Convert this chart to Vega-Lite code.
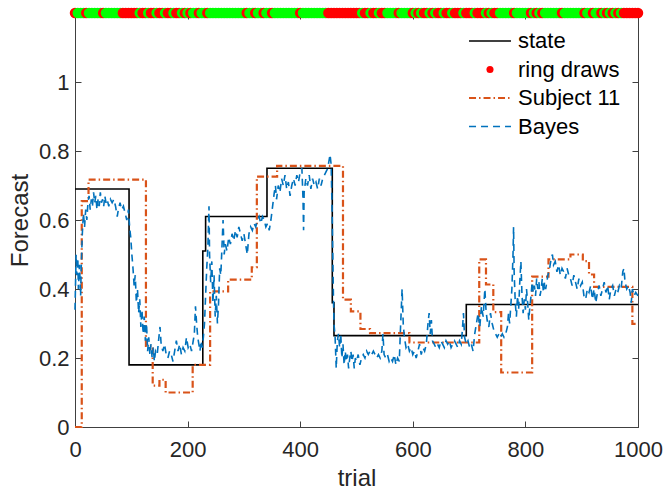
{
  "$schema": "https://vega.github.io/schema/vega-lite/v6.json",
  "width": 563,
  "height": 414,
  "autosize": {"type": "none"},
  "padding": {"left": 75, "top": 13, "right": 26, "bottom": 62},
  "background": "white",
  "config": {
    "view": {"stroke": "#404040", "strokeWidth": 1},
    "font": "Liberation Sans",
    "axis": {"grid": false, "domainColor": "#404040", "tickColor": "#404040", "labelColor": "#262626", "titleColor": "#262626", "labelFont": "Liberation Sans", "titleFont": "Liberation Sans", "labelFontSize": 22, "titleFontSize": 24, "titleFontWeight": "normal", "tickSize": -6, "tickWidth": 1, "labelFlush": false}
  },
  "resolve": {"axis": {"x": "independent", "y": "independent"}},
  "datasets": {
    "lines": [
      {"series": "state", "trial": 0, "value": 0.69},
      {"series": "state", "trial": 96, "value": 0.18},
      {"series": "state", "trial": 227, "value": 0.51},
      {"series": "state", "trial": 232, "value": 0.61},
      {"series": "state", "trial": 341, "value": 0.75},
      {"series": "state", "trial": 457, "value": 0.36},
      {"series": "state", "trial": 460, "value": 0.265},
      {"series": "state", "trial": 695, "value": 0.355},
      {"series": "state", "trial": 1000, "value": 0.355},
      {"series": "Subject 11", "trial": 0, "value": 0.0},
      {"series": "Subject 11", "trial": 12, "value": 0.655},
      {"series": "Subject 11", "trial": 24, "value": 0.717},
      {"series": "Subject 11", "trial": 126, "value": 0.235},
      {"series": "Subject 11", "trial": 138, "value": 0.12},
      {"series": "Subject 11", "trial": 150, "value": 0.137},
      {"series": "Subject 11", "trial": 161, "value": 0.10},
      {"series": "Subject 11", "trial": 209, "value": 0.18},
      {"series": "Subject 11", "trial": 240, "value": 0.393},
      {"series": "Subject 11", "trial": 272, "value": 0.427},
      {"series": "Subject 11", "trial": 314, "value": 0.463},
      {"series": "Subject 11", "trial": 323, "value": 0.726},
      {"series": "Subject 11", "trial": 359, "value": 0.757},
      {"series": "Subject 11", "trial": 476, "value": 0.369},
      {"series": "Subject 11", "trial": 490, "value": 0.335},
      {"series": "Subject 11", "trial": 507, "value": 0.284},
      {"series": "Subject 11", "trial": 524, "value": 0.272},
      {"series": "Subject 11", "trial": 594, "value": 0.245},
      {"series": "Subject 11", "trial": 718, "value": 0.486},
      {"series": "Subject 11", "trial": 730, "value": 0.413},
      {"series": "Subject 11", "trial": 743, "value": 0.333},
      {"series": "Subject 11", "trial": 757, "value": 0.158},
      {"series": "Subject 11", "trial": 812, "value": 0.436},
      {"series": "Subject 11", "trial": 841, "value": 0.486},
      {"series": "Subject 11", "trial": 880, "value": 0.50},
      {"series": "Subject 11", "trial": 902, "value": 0.481},
      {"series": "Subject 11", "trial": 913, "value": 0.442},
      {"series": "Subject 11", "trial": 922, "value": 0.406},
      {"series": "Subject 11", "trial": 990, "value": 0.299},
      {"series": "Subject 11", "trial": 1000, "value": 0.299},
      {"series": "Bayes", "trial": 0, "value": 0.34},
      {"series": "Bayes", "trial": 2, "value": 0.50},
      {"series": "Bayes", "trial": 3, "value": 0.44},
      {"series": "Bayes", "trial": 5, "value": 0.49},
      {"series": "Bayes", "trial": 6, "value": 0.40},
      {"series": "Bayes", "trial": 8, "value": 0.47},
      {"series": "Bayes", "trial": 10, "value": 0.38},
      {"series": "Bayes", "trial": 11, "value": 0.46},
      {"series": "Bayes", "trial": 13, "value": 0.56},
      {"series": "Bayes", "trial": 15, "value": 0.62},
      {"series": "Bayes", "trial": 17, "value": 0.58},
      {"series": "Bayes", "trial": 19, "value": 0.63},
      {"series": "Bayes", "trial": 21, "value": 0.60},
      {"series": "Bayes", "trial": 23, "value": 0.65},
      {"series": "Bayes", "trial": 25, "value": 0.67},
      {"series": "Bayes", "trial": 27, "value": 0.63},
      {"series": "Bayes", "trial": 29, "value": 0.66},
      {"series": "Bayes", "trial": 31, "value": 0.64},
      {"series": "Bayes", "trial": 33, "value": 0.68},
      {"series": "Bayes", "trial": 35, "value": 0.65},
      {"series": "Bayes", "trial": 37, "value": 0.67},
      {"series": "Bayes", "trial": 39, "value": 0.63},
      {"series": "Bayes", "trial": 41, "value": 0.66},
      {"series": "Bayes", "trial": 43, "value": 0.64},
      {"series": "Bayes", "trial": 45, "value": 0.68},
      {"series": "Bayes", "trial": 47, "value": 0.65},
      {"series": "Bayes", "trial": 49, "value": 0.66},
      {"series": "Bayes", "trial": 51, "value": 0.64},
      {"series": "Bayes", "trial": 53, "value": 0.67},
      {"series": "Bayes", "trial": 55, "value": 0.65},
      {"series": "Bayes", "trial": 57, "value": 0.66},
      {"series": "Bayes", "trial": 60, "value": 0.64},
      {"series": "Bayes", "trial": 63, "value": 0.66},
      {"series": "Bayes", "trial": 66, "value": 0.65},
      {"series": "Bayes", "trial": 69, "value": 0.66},
      {"series": "Bayes", "trial": 72, "value": 0.64},
      {"series": "Bayes", "trial": 75, "value": 0.61},
      {"series": "Bayes", "trial": 77, "value": 0.63},
      {"series": "Bayes", "trial": 80, "value": 0.65},
      {"series": "Bayes", "trial": 83, "value": 0.63},
      {"series": "Bayes", "trial": 86, "value": 0.64},
      {"series": "Bayes", "trial": 89, "value": 0.62},
      {"series": "Bayes", "trial": 92, "value": 0.60},
      {"series": "Bayes", "trial": 95, "value": 0.63},
      {"series": "Bayes", "trial": 97, "value": 0.58},
      {"series": "Bayes", "trial": 99, "value": 0.55},
      {"series": "Bayes", "trial": 101, "value": 0.50},
      {"series": "Bayes", "trial": 103, "value": 0.46},
      {"series": "Bayes", "trial": 105, "value": 0.41},
      {"series": "Bayes", "trial": 107, "value": 0.44},
      {"series": "Bayes", "trial": 109, "value": 0.36},
      {"series": "Bayes", "trial": 111, "value": 0.40},
      {"series": "Bayes", "trial": 113, "value": 0.33},
      {"series": "Bayes", "trial": 115, "value": 0.37},
      {"series": "Bayes", "trial": 117, "value": 0.29},
      {"series": "Bayes", "trial": 119, "value": 0.34},
      {"series": "Bayes", "trial": 121, "value": 0.27},
      {"series": "Bayes", "trial": 123, "value": 0.32},
      {"series": "Bayes", "trial": 125, "value": 0.25},
      {"series": "Bayes", "trial": 127, "value": 0.30},
      {"series": "Bayes", "trial": 129, "value": 0.22},
      {"series": "Bayes", "trial": 131, "value": 0.26},
      {"series": "Bayes", "trial": 133, "value": 0.21},
      {"series": "Bayes", "trial": 135, "value": 0.24},
      {"series": "Bayes", "trial": 137, "value": 0.20},
      {"series": "Bayes", "trial": 139, "value": 0.23},
      {"series": "Bayes", "trial": 141, "value": 0.19},
      {"series": "Bayes", "trial": 143, "value": 0.22},
      {"series": "Bayes", "trial": 146, "value": 0.21},
      {"series": "Bayes", "trial": 149, "value": 0.26},
      {"series": "Bayes", "trial": 151, "value": 0.29},
      {"series": "Bayes", "trial": 153, "value": 0.24},
      {"series": "Bayes", "trial": 156, "value": 0.22},
      {"series": "Bayes", "trial": 159, "value": 0.24},
      {"series": "Bayes", "trial": 162, "value": 0.21},
      {"series": "Bayes", "trial": 165, "value": 0.20},
      {"series": "Bayes", "trial": 168, "value": 0.22},
      {"series": "Bayes", "trial": 171, "value": 0.21},
      {"series": "Bayes", "trial": 174, "value": 0.19},
      {"series": "Bayes", "trial": 177, "value": 0.22},
      {"series": "Bayes", "trial": 180, "value": 0.25},
      {"series": "Bayes", "trial": 183, "value": 0.22},
      {"series": "Bayes", "trial": 186, "value": 0.24},
      {"series": "Bayes", "trial": 189, "value": 0.21},
      {"series": "Bayes", "trial": 192, "value": 0.23},
      {"series": "Bayes", "trial": 195, "value": 0.22},
      {"series": "Bayes", "trial": 198, "value": 0.26},
      {"series": "Bayes", "trial": 201, "value": 0.23},
      {"series": "Bayes", "trial": 204, "value": 0.24},
      {"series": "Bayes", "trial": 207, "value": 0.22},
      {"series": "Bayes", "trial": 210, "value": 0.25},
      {"series": "Bayes", "trial": 212, "value": 0.27},
      {"series": "Bayes", "trial": 214, "value": 0.35},
      {"series": "Bayes", "trial": 216, "value": 0.30},
      {"series": "Bayes", "trial": 218, "value": 0.26},
      {"series": "Bayes", "trial": 220, "value": 0.24},
      {"series": "Bayes", "trial": 222, "value": 0.22},
      {"series": "Bayes", "trial": 224, "value": 0.25},
      {"series": "Bayes", "trial": 226, "value": 0.23},
      {"series": "Bayes", "trial": 228, "value": 0.26},
      {"series": "Bayes", "trial": 230, "value": 0.30},
      {"series": "Bayes", "trial": 232, "value": 0.38},
      {"series": "Bayes", "trial": 234, "value": 0.46},
      {"series": "Bayes", "trial": 236, "value": 0.52},
      {"series": "Bayes", "trial": 238, "value": 0.64},
      {"series": "Bayes", "trial": 239, "value": 0.50},
      {"series": "Bayes", "trial": 241, "value": 0.42},
      {"series": "Bayes", "trial": 243, "value": 0.48},
      {"series": "Bayes", "trial": 245, "value": 0.36},
      {"series": "Bayes", "trial": 247, "value": 0.44},
      {"series": "Bayes", "trial": 249, "value": 0.32},
      {"series": "Bayes", "trial": 251, "value": 0.38},
      {"series": "Bayes", "trial": 253, "value": 0.30},
      {"series": "Bayes", "trial": 255, "value": 0.36},
      {"series": "Bayes", "trial": 257, "value": 0.46},
      {"series": "Bayes", "trial": 259, "value": 0.44},
      {"series": "Bayes", "trial": 261, "value": 0.52},
      {"series": "Bayes", "trial": 263, "value": 0.60},
      {"series": "Bayes", "trial": 265, "value": 0.50},
      {"series": "Bayes", "trial": 267, "value": 0.53},
      {"series": "Bayes", "trial": 270, "value": 0.51},
      {"series": "Bayes", "trial": 273, "value": 0.55},
      {"series": "Bayes", "trial": 276, "value": 0.53},
      {"series": "Bayes", "trial": 279, "value": 0.56},
      {"series": "Bayes", "trial": 282, "value": 0.54},
      {"series": "Bayes", "trial": 285, "value": 0.57},
      {"series": "Bayes", "trial": 288, "value": 0.55},
      {"series": "Bayes", "trial": 291, "value": 0.58},
      {"series": "Bayes", "trial": 294, "value": 0.56},
      {"series": "Bayes", "trial": 297, "value": 0.54},
      {"series": "Bayes", "trial": 300, "value": 0.56},
      {"series": "Bayes", "trial": 303, "value": 0.53},
      {"series": "Bayes", "trial": 306, "value": 0.50},
      {"series": "Bayes", "trial": 309, "value": 0.56},
      {"series": "Bayes", "trial": 312, "value": 0.58},
      {"series": "Bayes", "trial": 315, "value": 0.57},
      {"series": "Bayes", "trial": 318, "value": 0.59},
      {"series": "Bayes", "trial": 321, "value": 0.58},
      {"series": "Bayes", "trial": 324, "value": 0.60},
      {"series": "Bayes", "trial": 327, "value": 0.61},
      {"series": "Bayes", "trial": 330, "value": 0.59},
      {"series": "Bayes", "trial": 333, "value": 0.61},
      {"series": "Bayes", "trial": 336, "value": 0.60},
      {"series": "Bayes", "trial": 339, "value": 0.58},
      {"series": "Bayes", "trial": 342, "value": 0.59},
      {"series": "Bayes", "trial": 345, "value": 0.57},
      {"series": "Bayes", "trial": 348, "value": 0.60},
      {"series": "Bayes", "trial": 351, "value": 0.64},
      {"series": "Bayes", "trial": 354, "value": 0.68},
      {"series": "Bayes", "trial": 356, "value": 0.70},
      {"series": "Bayes", "trial": 358, "value": 0.66},
      {"series": "Bayes", "trial": 361, "value": 0.70},
      {"series": "Bayes", "trial": 364, "value": 0.68},
      {"series": "Bayes", "trial": 367, "value": 0.72},
      {"series": "Bayes", "trial": 370, "value": 0.70},
      {"series": "Bayes", "trial": 373, "value": 0.73},
      {"series": "Bayes", "trial": 376, "value": 0.69},
      {"series": "Bayes", "trial": 379, "value": 0.71},
      {"series": "Bayes", "trial": 382, "value": 0.67},
      {"series": "Bayes", "trial": 385, "value": 0.70},
      {"series": "Bayes", "trial": 388, "value": 0.72},
      {"series": "Bayes", "trial": 391, "value": 0.70},
      {"series": "Bayes", "trial": 394, "value": 0.73},
      {"series": "Bayes", "trial": 397, "value": 0.71},
      {"series": "Bayes", "trial": 400, "value": 0.74},
      {"series": "Bayes", "trial": 403, "value": 0.75},
      {"series": "Bayes", "trial": 405, "value": 0.66},
      {"series": "Bayes", "trial": 406, "value": 0.57},
      {"series": "Bayes", "trial": 407, "value": 0.68},
      {"series": "Bayes", "trial": 410, "value": 0.72},
      {"series": "Bayes", "trial": 413, "value": 0.70},
      {"series": "Bayes", "trial": 416, "value": 0.73},
      {"series": "Bayes", "trial": 419, "value": 0.69},
      {"series": "Bayes", "trial": 422, "value": 0.72},
      {"series": "Bayes", "trial": 425, "value": 0.70},
      {"series": "Bayes", "trial": 428, "value": 0.71},
      {"series": "Bayes", "trial": 431, "value": 0.69},
      {"series": "Bayes", "trial": 434, "value": 0.72},
      {"series": "Bayes", "trial": 437, "value": 0.70},
      {"series": "Bayes", "trial": 440, "value": 0.72},
      {"series": "Bayes", "trial": 443, "value": 0.73},
      {"series": "Bayes", "trial": 446, "value": 0.74},
      {"series": "Bayes", "trial": 449, "value": 0.75},
      {"series": "Bayes", "trial": 451, "value": 0.77},
      {"series": "Bayes", "trial": 453, "value": 0.79},
      {"series": "Bayes", "trial": 455, "value": 0.76},
      {"series": "Bayes", "trial": 457, "value": 0.60},
      {"series": "Bayes", "trial": 459, "value": 0.38},
      {"series": "Bayes", "trial": 460, "value": 0.30},
      {"series": "Bayes", "trial": 462, "value": 0.26},
      {"series": "Bayes", "trial": 464, "value": 0.17},
      {"series": "Bayes", "trial": 466, "value": 0.25},
      {"series": "Bayes", "trial": 468, "value": 0.27},
      {"series": "Bayes", "trial": 470, "value": 0.23},
      {"series": "Bayes", "trial": 472, "value": 0.27},
      {"series": "Bayes", "trial": 474, "value": 0.20},
      {"series": "Bayes", "trial": 476, "value": 0.24},
      {"series": "Bayes", "trial": 478, "value": 0.18},
      {"series": "Bayes", "trial": 480, "value": 0.22},
      {"series": "Bayes", "trial": 482, "value": 0.19},
      {"series": "Bayes", "trial": 484, "value": 0.21},
      {"series": "Bayes", "trial": 486, "value": 0.17},
      {"series": "Bayes", "trial": 488, "value": 0.20},
      {"series": "Bayes", "trial": 490, "value": 0.22},
      {"series": "Bayes", "trial": 492, "value": 0.19},
      {"series": "Bayes", "trial": 494, "value": 0.21},
      {"series": "Bayes", "trial": 496, "value": 0.17},
      {"series": "Bayes", "trial": 498, "value": 0.20},
      {"series": "Bayes", "trial": 500, "value": 0.19},
      {"series": "Bayes", "trial": 503, "value": 0.21},
      {"series": "Bayes", "trial": 506, "value": 0.18},
      {"series": "Bayes", "trial": 509, "value": 0.20},
      {"series": "Bayes", "trial": 512, "value": 0.21},
      {"series": "Bayes", "trial": 515, "value": 0.20},
      {"series": "Bayes", "trial": 518, "value": 0.22},
      {"series": "Bayes", "trial": 521, "value": 0.21},
      {"series": "Bayes", "trial": 524, "value": 0.22},
      {"series": "Bayes", "trial": 527, "value": 0.21},
      {"series": "Bayes", "trial": 530, "value": 0.22},
      {"series": "Bayes", "trial": 533, "value": 0.21},
      {"series": "Bayes", "trial": 536, "value": 0.20},
      {"series": "Bayes", "trial": 539, "value": 0.21},
      {"series": "Bayes", "trial": 542, "value": 0.20},
      {"series": "Bayes", "trial": 545, "value": 0.22},
      {"series": "Bayes", "trial": 547, "value": 0.27},
      {"series": "Bayes", "trial": 549, "value": 0.21},
      {"series": "Bayes", "trial": 552, "value": 0.20},
      {"series": "Bayes", "trial": 555, "value": 0.21},
      {"series": "Bayes", "trial": 558, "value": 0.19},
      {"series": "Bayes", "trial": 561, "value": 0.20},
      {"series": "Bayes", "trial": 564, "value": 0.19},
      {"series": "Bayes", "trial": 567, "value": 0.21},
      {"series": "Bayes", "trial": 570, "value": 0.18},
      {"series": "Bayes", "trial": 573, "value": 0.20},
      {"series": "Bayes", "trial": 576, "value": 0.19},
      {"series": "Bayes", "trial": 578, "value": 0.28},
      {"series": "Bayes", "trial": 580, "value": 0.36},
      {"series": "Bayes", "trial": 581, "value": 0.40},
      {"series": "Bayes", "trial": 583, "value": 0.30},
      {"series": "Bayes", "trial": 585, "value": 0.26},
      {"series": "Bayes", "trial": 588, "value": 0.23},
      {"series": "Bayes", "trial": 591, "value": 0.24},
      {"series": "Bayes", "trial": 594, "value": 0.22},
      {"series": "Bayes", "trial": 597, "value": 0.23},
      {"series": "Bayes", "trial": 600, "value": 0.21},
      {"series": "Bayes", "trial": 603, "value": 0.22},
      {"series": "Bayes", "trial": 606, "value": 0.20},
      {"series": "Bayes", "trial": 609, "value": 0.22},
      {"series": "Bayes", "trial": 612, "value": 0.24},
      {"series": "Bayes", "trial": 615, "value": 0.21},
      {"series": "Bayes", "trial": 618, "value": 0.23},
      {"series": "Bayes", "trial": 621, "value": 0.22},
      {"series": "Bayes", "trial": 624, "value": 0.24},
      {"series": "Bayes", "trial": 627, "value": 0.30},
      {"series": "Bayes", "trial": 629, "value": 0.33},
      {"series": "Bayes", "trial": 631, "value": 0.27},
      {"series": "Bayes", "trial": 633, "value": 0.31},
      {"series": "Bayes", "trial": 635, "value": 0.25},
      {"series": "Bayes", "trial": 638, "value": 0.24},
      {"series": "Bayes", "trial": 641, "value": 0.23},
      {"series": "Bayes", "trial": 644, "value": 0.24},
      {"series": "Bayes", "trial": 647, "value": 0.23},
      {"series": "Bayes", "trial": 650, "value": 0.25},
      {"series": "Bayes", "trial": 653, "value": 0.24},
      {"series": "Bayes", "trial": 656, "value": 0.23},
      {"series": "Bayes", "trial": 659, "value": 0.25},
      {"series": "Bayes", "trial": 662, "value": 0.24},
      {"series": "Bayes", "trial": 665, "value": 0.25},
      {"series": "Bayes", "trial": 668, "value": 0.23},
      {"series": "Bayes", "trial": 671, "value": 0.24},
      {"series": "Bayes", "trial": 674, "value": 0.25},
      {"series": "Bayes", "trial": 677, "value": 0.24},
      {"series": "Bayes", "trial": 680, "value": 0.23},
      {"series": "Bayes", "trial": 683, "value": 0.25},
      {"series": "Bayes", "trial": 686, "value": 0.24},
      {"series": "Bayes", "trial": 688, "value": 0.28},
      {"series": "Bayes", "trial": 690, "value": 0.33},
      {"series": "Bayes", "trial": 692, "value": 0.26},
      {"series": "Bayes", "trial": 695, "value": 0.24},
      {"series": "Bayes", "trial": 698, "value": 0.25},
      {"series": "Bayes", "trial": 701, "value": 0.23},
      {"series": "Bayes", "trial": 704, "value": 0.24},
      {"series": "Bayes", "trial": 707, "value": 0.22},
      {"series": "Bayes", "trial": 710, "value": 0.27},
      {"series": "Bayes", "trial": 713, "value": 0.30},
      {"series": "Bayes", "trial": 716, "value": 0.33},
      {"series": "Bayes", "trial": 719, "value": 0.29},
      {"series": "Bayes", "trial": 722, "value": 0.35},
      {"series": "Bayes", "trial": 725, "value": 0.32},
      {"series": "Bayes", "trial": 728, "value": 0.40},
      {"series": "Bayes", "trial": 730, "value": 0.34},
      {"series": "Bayes", "trial": 732, "value": 0.31},
      {"series": "Bayes", "trial": 735, "value": 0.29},
      {"series": "Bayes", "trial": 738, "value": 0.33},
      {"series": "Bayes", "trial": 741, "value": 0.30},
      {"series": "Bayes", "trial": 744, "value": 0.28},
      {"series": "Bayes", "trial": 747, "value": 0.27},
      {"series": "Bayes", "trial": 750, "value": 0.26},
      {"series": "Bayes", "trial": 753, "value": 0.27},
      {"series": "Bayes", "trial": 756, "value": 0.26},
      {"series": "Bayes", "trial": 759, "value": 0.27},
      {"series": "Bayes", "trial": 762, "value": 0.26},
      {"series": "Bayes", "trial": 765, "value": 0.27},
      {"series": "Bayes", "trial": 768, "value": 0.29},
      {"series": "Bayes", "trial": 770, "value": 0.33},
      {"series": "Bayes", "trial": 772, "value": 0.30},
      {"series": "Bayes", "trial": 774, "value": 0.35},
      {"series": "Bayes", "trial": 776, "value": 0.40},
      {"series": "Bayes", "trial": 778, "value": 0.50},
      {"series": "Bayes", "trial": 779, "value": 0.58},
      {"series": "Bayes", "trial": 780, "value": 0.45},
      {"series": "Bayes", "trial": 782, "value": 0.36},
      {"series": "Bayes", "trial": 784, "value": 0.32},
      {"series": "Bayes", "trial": 786, "value": 0.38},
      {"series": "Bayes", "trial": 788, "value": 0.34},
      {"series": "Bayes", "trial": 790, "value": 0.42},
      {"series": "Bayes", "trial": 792, "value": 0.48},
      {"series": "Bayes", "trial": 794, "value": 0.38},
      {"series": "Bayes", "trial": 796, "value": 0.33},
      {"series": "Bayes", "trial": 798, "value": 0.37},
      {"series": "Bayes", "trial": 800, "value": 0.34},
      {"series": "Bayes", "trial": 802, "value": 0.40},
      {"series": "Bayes", "trial": 804, "value": 0.36},
      {"series": "Bayes", "trial": 806, "value": 0.31},
      {"series": "Bayes", "trial": 808, "value": 0.35},
      {"series": "Bayes", "trial": 810, "value": 0.38},
      {"series": "Bayes", "trial": 812, "value": 0.42},
      {"series": "Bayes", "trial": 814, "value": 0.39},
      {"series": "Bayes", "trial": 816, "value": 0.41},
      {"series": "Bayes", "trial": 818, "value": 0.38},
      {"series": "Bayes", "trial": 820, "value": 0.43},
      {"series": "Bayes", "trial": 822, "value": 0.40},
      {"series": "Bayes", "trial": 824, "value": 0.42},
      {"series": "Bayes", "trial": 826, "value": 0.38},
      {"series": "Bayes", "trial": 828, "value": 0.40},
      {"series": "Bayes", "trial": 830, "value": 0.43},
      {"series": "Bayes", "trial": 832, "value": 0.39},
      {"series": "Bayes", "trial": 834, "value": 0.42},
      {"series": "Bayes", "trial": 836, "value": 0.40},
      {"series": "Bayes", "trial": 838, "value": 0.42},
      {"series": "Bayes", "trial": 840, "value": 0.44},
      {"series": "Bayes", "trial": 843, "value": 0.46},
      {"series": "Bayes", "trial": 846, "value": 0.49},
      {"series": "Bayes", "trial": 848, "value": 0.50},
      {"series": "Bayes", "trial": 850, "value": 0.47},
      {"series": "Bayes", "trial": 853, "value": 0.48},
      {"series": "Bayes", "trial": 856, "value": 0.45},
      {"series": "Bayes", "trial": 859, "value": 0.47},
      {"series": "Bayes", "trial": 862, "value": 0.44},
      {"series": "Bayes", "trial": 865, "value": 0.46},
      {"series": "Bayes", "trial": 868, "value": 0.45},
      {"series": "Bayes", "trial": 871, "value": 0.43},
      {"series": "Bayes", "trial": 874, "value": 0.46},
      {"series": "Bayes", "trial": 877, "value": 0.44},
      {"series": "Bayes", "trial": 880, "value": 0.43},
      {"series": "Bayes", "trial": 883, "value": 0.41},
      {"series": "Bayes", "trial": 886, "value": 0.44},
      {"series": "Bayes", "trial": 889, "value": 0.42},
      {"series": "Bayes", "trial": 892, "value": 0.40},
      {"series": "Bayes", "trial": 895, "value": 0.43},
      {"series": "Bayes", "trial": 898, "value": 0.41},
      {"series": "Bayes", "trial": 901, "value": 0.42},
      {"series": "Bayes", "trial": 904, "value": 0.38},
      {"series": "Bayes", "trial": 907, "value": 0.37},
      {"series": "Bayes", "trial": 910, "value": 0.40},
      {"series": "Bayes", "trial": 913, "value": 0.39},
      {"series": "Bayes", "trial": 916, "value": 0.41},
      {"series": "Bayes", "trial": 919, "value": 0.37},
      {"series": "Bayes", "trial": 922, "value": 0.40},
      {"series": "Bayes", "trial": 925, "value": 0.36},
      {"series": "Bayes", "trial": 928, "value": 0.39},
      {"series": "Bayes", "trial": 931, "value": 0.41},
      {"series": "Bayes", "trial": 934, "value": 0.38},
      {"series": "Bayes", "trial": 937, "value": 0.40},
      {"series": "Bayes", "trial": 940, "value": 0.42},
      {"series": "Bayes", "trial": 943, "value": 0.39},
      {"series": "Bayes", "trial": 946, "value": 0.41},
      {"series": "Bayes", "trial": 949, "value": 0.37},
      {"series": "Bayes", "trial": 952, "value": 0.40},
      {"series": "Bayes", "trial": 955, "value": 0.41},
      {"series": "Bayes", "trial": 958, "value": 0.38},
      {"series": "Bayes", "trial": 961, "value": 0.40},
      {"series": "Bayes", "trial": 964, "value": 0.39},
      {"series": "Bayes", "trial": 967, "value": 0.41},
      {"series": "Bayes", "trial": 970, "value": 0.40},
      {"series": "Bayes", "trial": 973, "value": 0.45},
      {"series": "Bayes", "trial": 975, "value": 0.46},
      {"series": "Bayes", "trial": 977, "value": 0.42},
      {"series": "Bayes", "trial": 980, "value": 0.40},
      {"series": "Bayes", "trial": 983, "value": 0.41},
      {"series": "Bayes", "trial": 986, "value": 0.39},
      {"series": "Bayes", "trial": 988, "value": 0.36},
      {"series": "Bayes", "trial": 990, "value": 0.40},
      {"series": "Bayes", "trial": 993, "value": 0.38},
      {"series": "Bayes", "trial": 996, "value": 0.39},
      {"series": "Bayes", "trial": 1000, "value": 0.38}
    ],
    "draws": [
      {"trial": 0, "c": "r"}, {"trial": 5, "c": "g"}, {"trial": 10, "c": "g"}, {"trial": 15, "c": "g"}, {"trial": 20, "c": "r"}, {"trial": 25, "c": "g"}, {"trial": 30, "c": "g"}, {"trial": 35, "c": "g"}, {"trial": 40, "c": "g"}, {"trial": 45, "c": "g"}, {"trial": 50, "c": "r"}, {"trial": 55, "c": "g"}, {"trial": 60, "c": "g"}, {"trial": 65, "c": "g"}, {"trial": 70, "c": "g"}, {"trial": 75, "c": "g"}, {"trial": 80, "c": "g"},
      {"trial": 85, "c": "r"}, {"trial": 90, "c": "r"}, {"trial": 95, "c": "r"}, {"trial": 100, "c": "r"}, {"trial": 105, "c": "r"}, {"trial": 110, "c": "r"},
      {"trial": 115, "c": "g"}, {"trial": 120, "c": "r"}, {"trial": 125, "c": "r"}, {"trial": 130, "c": "g"}, {"trial": 135, "c": "r"}, {"trial": 140, "c": "r"}, {"trial": 145, "c": "g"}, {"trial": 150, "c": "r"}, {"trial": 155, "c": "r"}, {"trial": 160, "c": "g"}, {"trial": 165, "c": "r"}, {"trial": 170, "c": "r"}, {"trial": 175, "c": "g"}, {"trial": 180, "c": "r"}, {"trial": 185, "c": "r"}, {"trial": 190, "c": "g"}, {"trial": 195, "c": "r"},
      {"trial": 200, "c": "g"}, {"trial": 205, "c": "r"}, {"trial": 210, "c": "g"}, {"trial": 215, "c": "g"}, {"trial": 220, "c": "r"}, {"trial": 225, "c": "g"}, {"trial": 230, "c": "g"}, {"trial": 235, "c": "r"}, {"trial": 240, "c": "g"},
      {"trial": 245, "c": "g"}, {"trial": 250, "c": "g"}, {"trial": 255, "c": "g"}, {"trial": 260, "c": "g"}, {"trial": 265, "c": "g"}, {"trial": 270, "c": "g"}, {"trial": 275, "c": "g"}, {"trial": 280, "c": "g"}, {"trial": 285, "c": "g"}, {"trial": 290, "c": "g"}, {"trial": 295, "c": "g"}, {"trial": 300, "c": "g"},
      {"trial": 305, "c": "r"}, {"trial": 310, "c": "g"}, {"trial": 315, "c": "g"}, {"trial": 320, "c": "r"}, {"trial": 325, "c": "g"}, {"trial": 330, "c": "g"}, {"trial": 335, "c": "r"}, {"trial": 340, "c": "g"}, {"trial": 345, "c": "g"}, {"trial": 350, "c": "r"},
      {"trial": 355, "c": "g"}, {"trial": 360, "c": "g"}, {"trial": 365, "c": "g"}, {"trial": 370, "c": "g"}, {"trial": 375, "c": "g"}, {"trial": 380, "c": "g"}, {"trial": 385, "c": "g"}, {"trial": 390, "c": "g"}, {"trial": 395, "c": "g"}, {"trial": 400, "c": "r"}, {"trial": 405, "c": "g"}, {"trial": 410, "c": "g"}, {"trial": 415, "c": "g"}, {"trial": 420, "c": "g"}, {"trial": 425, "c": "g"}, {"trial": 430, "c": "g"}, {"trial": 435, "c": "g"}, {"trial": 440, "c": "g"}, {"trial": 445, "c": "g"},
      {"trial": 450, "c": "r"}, {"trial": 455, "c": "r"}, {"trial": 460, "c": "r"}, {"trial": 465, "c": "r"}, {"trial": 470, "c": "r"}, {"trial": 475, "c": "r"}, {"trial": 480, "c": "r"}, {"trial": 485, "c": "r"}, {"trial": 490, "c": "r"}, {"trial": 495, "c": "r"}, {"trial": 500, "c": "r"}, {"trial": 505, "c": "r"},
      {"trial": 510, "c": "g"}, {"trial": 515, "c": "r"}, {"trial": 520, "c": "r"}, {"trial": 525, "c": "g"}, {"trial": 530, "c": "r"}, {"trial": 535, "c": "r"}, {"trial": 540, "c": "g"}, {"trial": 545, "c": "r"}, {"trial": 550, "c": "r"}, {"trial": 555, "c": "g"},
      {"trial": 560, "c": "g"}, {"trial": 565, "c": "g"}, {"trial": 570, "c": "g"}, {"trial": 575, "c": "r"}, {"trial": 580, "c": "g"}, {"trial": 585, "c": "g"}, {"trial": 590, "c": "g"}, {"trial": 595, "c": "g"}, {"trial": 600, "c": "r"}, {"trial": 605, "c": "g"},
      {"trial": 610, "c": "r"}, {"trial": 615, "c": "g"}, {"trial": 620, "c": "r"}, {"trial": 625, "c": "r"}, {"trial": 630, "c": "g"}, {"trial": 635, "c": "r"}, {"trial": 640, "c": "g"}, {"trial": 645, "c": "r"}, {"trial": 650, "c": "r"}, {"trial": 655, "c": "g"}, {"trial": 660, "c": "r"}, {"trial": 665, "c": "r"}, {"trial": 670, "c": "g"}, {"trial": 675, "c": "r"},
      {"trial": 680, "c": "r"}, {"trial": 685, "c": "r"}, {"trial": 690, "c": "g"}, {"trial": 695, "c": "r"}, {"trial": 700, "c": "r"}, {"trial": 705, "c": "r"}, {"trial": 710, "c": "g"}, {"trial": 715, "c": "r"}, {"trial": 720, "c": "r"}, {"trial": 725, "c": "r"},
      {"trial": 730, "c": "g"}, {"trial": 735, "c": "r"}, {"trial": 740, "c": "g"}, {"trial": 745, "c": "r"}, {"trial": 750, "c": "r"}, {"trial": 755, "c": "g"},
      {"trial": 760, "c": "g"}, {"trial": 765, "c": "g"}, {"trial": 770, "c": "g"}, {"trial": 775, "c": "g"}, {"trial": 780, "c": "r"}, {"trial": 785, "c": "g"}, {"trial": 790, "c": "g"}, {"trial": 795, "c": "g"}, {"trial": 800, "c": "g"}, {"trial": 805, "c": "g"},
      {"trial": 810, "c": "r"}, {"trial": 815, "c": "g"}, {"trial": 820, "c": "r"}, {"trial": 825, "c": "g"}, {"trial": 830, "c": "r"}, {"trial": 835, "c": "g"},
      {"trial": 840, "c": "g"}, {"trial": 845, "c": "g"}, {"trial": 850, "c": "g"}, {"trial": 855, "c": "g"}, {"trial": 860, "c": "g"}, {"trial": 865, "c": "r"}, {"trial": 870, "c": "g"}, {"trial": 875, "c": "g"}, {"trial": 880, "c": "g"}, {"trial": 885, "c": "g"}, {"trial": 890, "c": "g"}, {"trial": 895, "c": "g"},
      {"trial": 900, "c": "g"}, {"trial": 905, "c": "r"}, {"trial": 910, "c": "g"}, {"trial": 915, "c": "g"}, {"trial": 920, "c": "r"}, {"trial": 925, "c": "g"}, {"trial": 930, "c": "g"}, {"trial": 935, "c": "r"}, {"trial": 940, "c": "g"},
      {"trial": 945, "c": "r"}, {"trial": 950, "c": "g"}, {"trial": 955, "c": "r"}, {"trial": 960, "c": "g"}, {"trial": 965, "c": "r"}, {"trial": 970, "c": "g"},
      {"trial": 975, "c": "r"}, {"trial": 980, "c": "r"}, {"trial": 985, "c": "r"}, {"trial": 990, "c": "r"}, {"trial": 995, "c": "r"}, {"trial": 1000, "c": "r"}
    ]
  },
  "layer": [
    {
      "data": {"name": "lines"},
      "transform": [{"filter": "datum.series === 'state'"}],
      "mark": {"type": "line", "interpolate": "step-after", "strokeWidth": 1.6},
      "encoding": {
        "x": {"field": "trial", "type": "quantitative", "scale": {"domain": [0, 1000], "nice": false, "zero": false},
              "axis": {"orient": "bottom", "values": [0, 200, 400, 600, 800, 1000], "format": "d", "title": "trial", "labelPadding": 18, "titlePadding": 6}},
        "y": {"field": "value", "type": "quantitative", "scale": {"domain": [0, 1.2], "nice": false},
              "axis": {"orient": "left", "values": [0, 0.2, 0.4, 0.6, 0.8, 1], "format": "~g", "title": "Forecast", "labelPadding": 12, "titlePadding": 6}},
        "stroke": {"field": "series", "type": "nominal",
                   "scale": {"domain": ["state", "ring draws", "Subject 11", "Bayes"], "range": ["#000000", "#ff0000", "#D95319", "#0072BD"]},
                   "legend": {
                     "title": null, "orient": "top-right", "offset": 17, "padding": 0,
                     "symbolType": "M-4,0H4", "symbolSize": 110, "symbolStrokeWidth": 1.6, "symbolOffset": 3,
                     "labelFontSize": 22, "labelFont": "Liberation Sans", "labelColor": "#000000", "labelOffset": 17, "rowPadding": 6.5,
                     "encode": {"symbols": {"update": {
                       "shape": {"signal": "datum.value === 'ring draws' ? 'circle' : 'M-4,0H4'"},
                       "size": {"signal": "datum.value === 'ring draws' ? 50 : 110"},
                       "fill": {"signal": "datum.value === 'ring draws' ? '#ff0000' : 'transparent'"},
                       "strokeWidth": {"signal": "datum.value === 'ring draws' ? 0 : (datum.value === 'Subject 11' ? 2.2 : 1.6)"}
                     }}}
                   }},
        "strokeDash": {"field": "series", "type": "nominal",
                       "scale": {"domain": ["state", "ring draws", "Subject 11", "Bayes"], "range": [[1, 0], [1, 0], [7, 3, 1.5, 3], [7, 5]]},
                       "legend": {"title": null}}
      }
    },
    {
      "data": {"name": "lines"},
      "transform": [{"filter": "datum.series === 'Subject 11'"}],
      "mark": {"type": "line", "interpolate": "step-after", "strokeWidth": 2.2},
      "encoding": {
        "x": {"field": "trial", "type": "quantitative", "axis": {"orient": "top", "values": [0, 200, 400, 600, 800, 1000], "labels": false, "title": null, "domain": false}},
        "y": {"field": "value", "type": "quantitative", "axis": {"orient": "right", "values": [0, 0.2, 0.4, 0.6, 0.8, 1], "labels": false, "title": null, "domain": false}},
        "stroke": {"field": "series", "type": "nominal"},
        "strokeDash": {"field": "series", "type": "nominal"}
      }
    },
    {
      "data": {"name": "lines"},
      "transform": [{"filter": "datum.series === 'Bayes'"}],
      "mark": {"type": "line", "strokeWidth": 1.6},
      "encoding": {
        "x": {"field": "trial", "type": "quantitative", "axis": null},
        "y": {"field": "value", "type": "quantitative", "axis": null},
        "stroke": {"field": "series", "type": "nominal"},
        "strokeDash": {"field": "series", "type": "nominal"}
      }
    },
    {
      "data": {"name": "draws"},
      "mark": {"type": "circle", "size": 110, "opacity": 1},
      "encoding": {
        "x": {"field": "trial", "type": "quantitative", "axis": null},
        "y": {"datum": 1.2, "type": "quantitative", "axis": null},
        "fill": {"field": "c", "type": "nominal", "scale": {"domain": ["g", "r"], "range": ["#00ff00", "#ff0000"]}, "legend": null}
      }
    }
  ]
}
